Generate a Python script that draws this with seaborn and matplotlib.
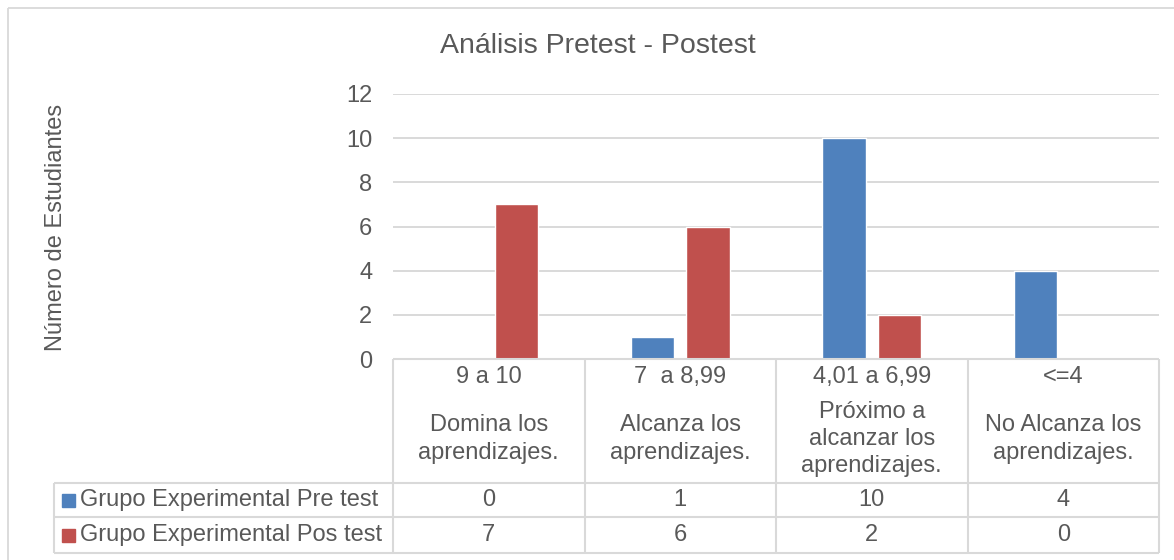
import matplotlib
matplotlib.use("Agg")
import pandas as pd
import seaborn as sns
import matplotlib.pyplot as plt
from matplotlib.patches import Rectangle

# datos del grafico
rangos = ["9 a 10", "7  a 8,99", "4,01 a 6,99", "<=4"]
niveles = ["Domina los\naprendizajes.", "Alcanza los\naprendizajes.",
           "Próximo a\nalcanzar los\naprendizajes.", "No Alcanza los\naprendizajes."]
series = ["Grupo Experimental Pre test", "Grupo Experimental Pos test"]
pre_test = [0, 1, 10, 4]
pos_test = [7, 6, 2, 0]
colores = ["#4F81BD", "#C0504D"]

df = pd.DataFrame({
    "nivel": rangos * 2,
    "grupo": [series[0]] * len(rangos) + [series[1]] * len(rangos),
    "estudiantes": pre_test + pos_test,
})

sns.set_theme(style="white")
plt.rcParams['font.family'] = ['Liberation Sans', 'DejaVu Sans']
gris = "#595959"
linea = "#d9d9d9"
fs = 17

W, H = 1174, 560
fig = plt.figure(figsize=(W / 100, H / 100), dpi=100)
fig.patch.set_facecolor("white")

# zona de graficos (pixeles)
x0, x1, y_top, y_bot = 393, 1159, 94, 359
ax = fig.add_axes([x0 / W, 1 - y_bot / H, (x1 - x0) / W, (y_bot - y_top) / H])
sns.barplot(data=df, x="nivel", y="estudiantes", hue="grupo", palette=colores,
            width=0.58, gap=0.22, saturation=1, legend=False, ax=ax)
ax.set_xlim(-0.5, len(rangos) - 0.5)
ax.set_ylim(0, 12)
ax.set_yticks(range(0, 13, 2))
ax.yaxis.grid(True, color=linea, lw=1.4)
ax.set_axisbelow(True)
for s in ax.spines.values():
    s.set_visible(False)
ax.tick_params(axis="x", labelbottom=False, length=0)
ax.tick_params(axis="y", length=0, pad=15, labelsize=fs, labelcolor=gris)
ax.set_xlabel("")
ax.set_ylabel("")

# capa superior para la tabla de datos
ov = fig.add_axes([0, 0, 1, 1], zorder=5)
ov.set_xlim(0, W)
ov.set_ylim(H, 0)
ov.axis("off")
ov.patch.set_visible(False)

# borde exterior del grafico (sigue fuera de la imagen a la derecha y abajo)
ov.add_patch(Rectangle((8, 8), W + 20, H + 20, fill=False, ec=linea, lw=1.3,
                       clip_on=True))

fig.text(598 / W, 1 - 46 / H, "Análisis Pretest - Postest", ha="center", va="center",
         fontsize=20.5, color=gris)
fig.text(56 / W, 1 - 227 / H, "Número de Estudiantes", rotation=90, ha="center",
         va="center", fontsize=fs, color=gris)

colw = (x1 - x0) / len(rangos)
t_left, r1, r2, t_bot = 54, 483, 517, 553
lk = dict(color=linea, lw=1.5, solid_capstyle="butt")
ov.plot([x0, x1], [y_bot, y_bot], **lk)
ov.plot([t_left, x1], [r1, r1], **lk)
ov.plot([t_left, x1], [r2, r2], **lk)
ov.plot([t_left, x1], [t_bot, t_bot], **lk)
ov.plot([t_left, t_left], [r1, t_bot], **lk)
for i in range(len(rangos) + 1):
    ov.plot([x0 + i * colw] * 2, [y_bot, t_bot], **lk)

for i, (r, n) in enumerate(zip(rangos, niveles)):
    cx = x0 + (i + 0.5) * colw
    ov.text(cx, 377, r, ha="center", va="center", fontsize=fs, color=gris)
    ov.text(cx, 439, n, ha="center", va="center", fontsize=fs, color=gris,
            linespacing=1.3)

for yc, nombre, vals, c in [((r1 + r2) / 2, series[0], pre_test, colores[0]),
                            ((r2 + t_bot) / 2, series[1], pos_test, colores[1])]:
    ov.add_patch(Rectangle((62, yc - 6.5), 13, 13, color=c))
    ov.text(80, yc, nombre, ha="left", va="center", fontsize=fs, color=gris)
    for i, v in enumerate(vals):
        ov.text(x0 + (i + 0.5) * colw, yc, str(v), ha="center", va="center",
                fontsize=fs, color=gris)

fig.savefig("out.png", dpi=100)
